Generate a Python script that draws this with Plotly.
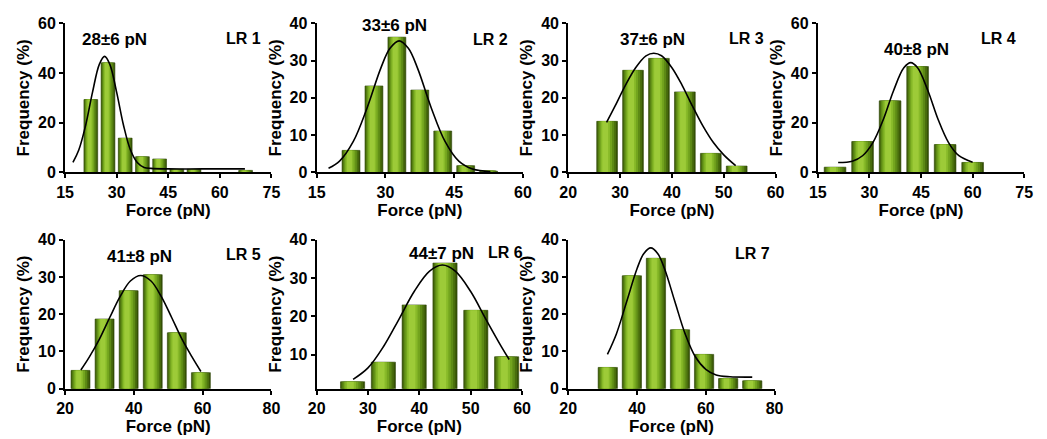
import plotly.graph_objects as go

# ---------------- data ----------------
lr1_force = [22.5, 27.5, 32.5, 37.5, 42.5, 47.5, 52.5, 67.5]
lr1_freq = [29.3, 44.1, 13.8, 6.3, 5.4, 1.3, 1.3, 0.8]
lr1_fit_force = [17.3, 19, 21, 23, 25, 26.5, 28, 30, 32, 34, 36, 38, 40, 45, 55, 67.3]
lr1_fit_freq = [4.0, 9.0, 19.0, 32.3, 43.6, 46.7, 43.6, 32.3, 19.0, 9.1, 4.0, 2.0, 1.6, 1.4, 1.4, 1.4]

lr2_force = [22.5, 27.5, 32.5, 37.5, 42.5, 47.5, 52.5]
lr2_freq = [5.9, 23.2, 36.3, 22.1, 11.1, 1.8, 0.3]
lr2_fit_force = [17.6, 20, 23, 26, 29, 31, 33, 35, 37, 40, 43, 46, 49, 52.9]
lr2_fit_freq = [1.1, 3.0, 8.3, 17.3, 28.0, 33.3, 35.3, 33.3, 28.0, 17.3, 8.3, 3.0, 0.9, 0.2]

lr3_force = [27.5, 32.5, 37.5, 42.5, 47.5, 52.5]
lr3_freq = [13.7, 27.4, 30.6, 21.6, 5.1, 1.7]
lr3_fit_force = [27.4, 29, 31, 33, 35, 36.5, 38, 40, 42, 44, 46, 48, 50, 52.3]
lr3_fit_freq = [13.4, 17.7, 23.3, 28.1, 31.3, 32.0, 31.3, 28.1, 23.3, 17.7, 12.4, 8.0, 4.7, 1.8]

lr4_force = [20, 28, 36, 44, 52, 60]
lr4_freq = [2.1, 12.4, 28.8, 42.6, 11.2, 4.0]
lr4_fit_force = [20.9, 25, 28, 31, 34, 37, 40, 42, 44, 47, 50, 53, 56, 60]
lr4_fit_freq = [4.0, 4.5, 6.7, 12.0, 21.2, 32.9, 42.1, 44.2, 42.1, 32.9, 21.2, 12.0, 6.7, 4.1]

lr5_force = [24.5, 31.5, 38.5, 45.5, 52.5, 59.5]
lr5_freq = [4.9, 18.7, 26.3, 30.6, 15.0, 4.3]
lr5_fit_force = [24.6, 27, 30, 33, 36, 39, 42, 45, 48, 51, 54, 57, 59.5]
lr5_fit_freq = [5.0, 8.4, 13.3, 19.1, 24.7, 28.9, 30.4, 28.9, 24.7, 19.1, 13.3, 8.4, 4.6]

lr6_force = [27, 33, 39, 45, 51, 57]
lr6_freq = [3.0, 8.1, 23.0, 33.9, 21.6, 9.5]
lr6_fit_force = [27.1, 30, 33, 36, 39, 42, 44.5, 47, 50, 53, 56, 57.5]
lr6_fit_freq = [3.6, 6.6, 12.1, 19.2, 26.5, 31.8, 33.4, 31.8, 26.5, 19.2, 12.1, 8.8]

lr7_force = [31.5, 38.5, 45.5, 52.5, 59.5, 66.5, 73.5]
lr7_freq = [5.7, 30.3, 35.0, 15.8, 9.2, 2.7, 2.1]
lr7_fit_force = [31.4, 34, 37, 40, 42, 44, 46, 48, 51, 54, 57, 60, 63, 67, 73.5]
lr7_fit_freq = [9.2, 14.7, 23.4, 32.2, 36.3, 37.8, 36.3, 32.2, 23.4, 14.7, 8.5, 5.2, 3.7, 3.2, 3.1]

panel_names = ["LR 1", "LR 2", "LR 3", "LR 4", "LR 5", "LR 6", "LR 7"]
fit_labels = ["28±6 pN", "33±6 pN", "37±6 pN", "40±8 pN", "41±8 pN", "44±7 pN", "47±9 pN"]

lr1_xticks = [15, 30, 45, 60, 75]
lr2_xticks = [15, 30, 45, 60]
lr3_xticks = [20, 30, 40, 50, 60]
lr4_xticks = [15, 30, 45, 60, 75]
lr5_xticks = [20, 40, 60, 80]
lr6_xticks = [20, 30, 40, 50, 60]
lr7_xticks = [20, 40, 60, 80]
yticks_60 = [0, 20, 40, 60]
yticks_40 = [0, 10, 20, 30, 40]
yticks_lr6 = [10, 20, 30, 40]

# ---------------- layout / style ----------------
W, H = 1047, 439
FONT = "Liberation Sans, Arial, sans-serif"


def xdom(px0, px1):
    return [px0 / W, px1 / W]


def ydom(py_bottom, py_top):
    return [1 - py_bottom / H, 1 - py_top / H]


TOP = ydom(171, 16)
BOT = ydom(396, 241)

panels = [
    dict(x=lr1_force, y=lr1_freq, fx=lr1_fit_force, fy=lr1_fit_freq, xt=lr1_xticks, yt=yticks_60,
         xr=[15, 75], yr=[0, 60], xd=xdom(57, 267), yd=TOP, bw=4.0,
         lab=(29.3, 53.4), lr=(67.0, 53.8)),
    dict(x=lr2_force, y=lr2_freq, fx=lr2_fit_force, fy=lr2_fit_freq, xt=lr2_xticks, yt=yticks_40,
         xr=[15, 60], yr=[0, 40], xd=xdom(313, 523), yd=TOP, bw=3.9,
         lab=(31.9, 39.5), lr=(52.9, 35.6)),
    dict(x=lr3_force, y=lr3_freq, fx=lr3_fit_force, fy=lr3_fit_freq, xt=lr3_xticks, yt=yticks_40,
         xr=[20, 60], yr=[0, 40], xd=xdom(569, 780), yd=TOP, bw=4.0,
         lab=(36.3, 35.6), lr=(54.3, 35.9)),
    dict(x=lr4_force, y=lr4_freq, fx=lr4_fit_force, fy=lr4_fit_freq, xt=lr4_xticks, yt=yticks_60,
         xr=[15, 75], yr=[0, 60], xd=xdom(823, 1033), yd=TOP, bw=6.3,
         lab=(43.6, 49.6), lr=(67.6, 53.8)),
    dict(x=lr5_force, y=lr5_freq, fx=lr5_fit_force, fy=lr5_fit_freq, xt=lr5_xticks, yt=yticks_40,
         xr=[20, 80], yr=[0, 40], xd=xdom(57, 267), yd=BOT, bw=5.5,
         lab=(41.7, 35.6), lr=(72.0, 35.9)),
    dict(x=lr6_force, y=lr6_freq, fx=lr6_fit_force, fy=lr6_fit_freq, xt=lr6_xticks, yt=yticks_lr6,
         xr=[20, 60], yr=[1.2, 40], xd=xdom(313, 522), yd=BOT, bw=4.7,
         lab=(44.3, 36.5), lr=(56.7, 36.7)),
    dict(x=lr7_force, y=lr7_freq, fx=lr7_fit_force, fy=lr7_fit_freq, xt=lr7_xticks, yt=yticks_40,
         xr=[20, 80], yr=[0, 40], xd=xdom(569, 779), yd=BOT, bw=5.6,
         lab=(44.0, 40.3), lr=(73.7, 36.4)),
]

# gradient layers for cylinder-like bars: (width fraction, shift fraction, colour)
layers = [
    (1.00, 0.00, "#375306"),
    (0.90, -0.02, "#496d0d"),
    (0.76, -0.04, "#5d8a15"),
    (0.60, -0.06, "#73a41e"),
    (0.44, -0.08, "#88ba29"),
    (0.28, -0.09, "#9dcb38"),
]

fig = go.Figure()
layout = {}
annotations = []

for i, p in enumerate(panels):
    n = "" if i == 0 else str(i + 1)
    xa, ya = "x" + n, "y" + n
    for k, (f, s, col) in enumerate(layers):
        w = p["bw"] * f
        fig.add_trace(go.Bar(
            x=p["x"], y=p["y"], xaxis=xa, yaxis=ya,
            width=w, offset=-w / 2 + s * p["bw"],
            marker=dict(color=col,
                        line=dict(color="#2c4306", width=0.6 if k == 0 else 0)),
            hoverinfo="skip", showlegend=False,
        ))
    fig.add_trace(go.Scatter(
        x=p["fx"], y=p["fy"], xaxis=xa, yaxis=ya, mode="lines",
        line=dict(color="black", width=1.6, shape="spline", smoothing=1.0),
        hoverinfo="skip", showlegend=False,
    ))
    axis_common = dict(
        showline=True, linewidth=2, linecolor="black", showgrid=False, zeroline=False,
        ticks="outside", ticklen=4, tickwidth=2, tickcolor="black",
        tickfont=dict(family=FONT, size=16, color="black", weight="bold"),
    )
    layout["xaxis" + n] = dict(
        axis_common, domain=p["xd"], anchor=ya, range=p["xr"],
        tickmode="array", tickvals=p["xt"],
        title=dict(text="Force (pN)", standoff=0,
                   font=dict(family=FONT, size=17, color="black", weight="bold")),
    )
    layout["yaxis" + n] = dict(
        axis_common, domain=p["yd"], anchor=xa, range=p["yr"],
        tickmode="array", tickvals=p["yt"],
        title=dict(text="Frequency (%)", standoff=4,
                   font=dict(family=FONT, size=17, color="black", weight="bold")),
    )
    annotations.append(dict(
        x=p["lab"][0], y=p["lab"][1], xref=xa, yref=ya, text=fit_labels[i],
        showarrow=False, font=dict(family=FONT, size=17, color="black", weight="bold"),
    ))
    annotations.append(dict(
        x=p["lr"][0], y=p["lr"][1], xref=xa, yref=ya, text=panel_names[i],
        showarrow=False, font=dict(family=FONT, size=16, color="black", weight="bold"),
    ))

fig.update_layout(
    width=W, height=H,
    margin=dict(l=0, r=0, t=0, b=0),
    paper_bgcolor="white", plot_bgcolor="white",
    barmode="overlay", showlegend=False,
    annotations=annotations,
    **layout,
)

fig.write_html("out.html")
